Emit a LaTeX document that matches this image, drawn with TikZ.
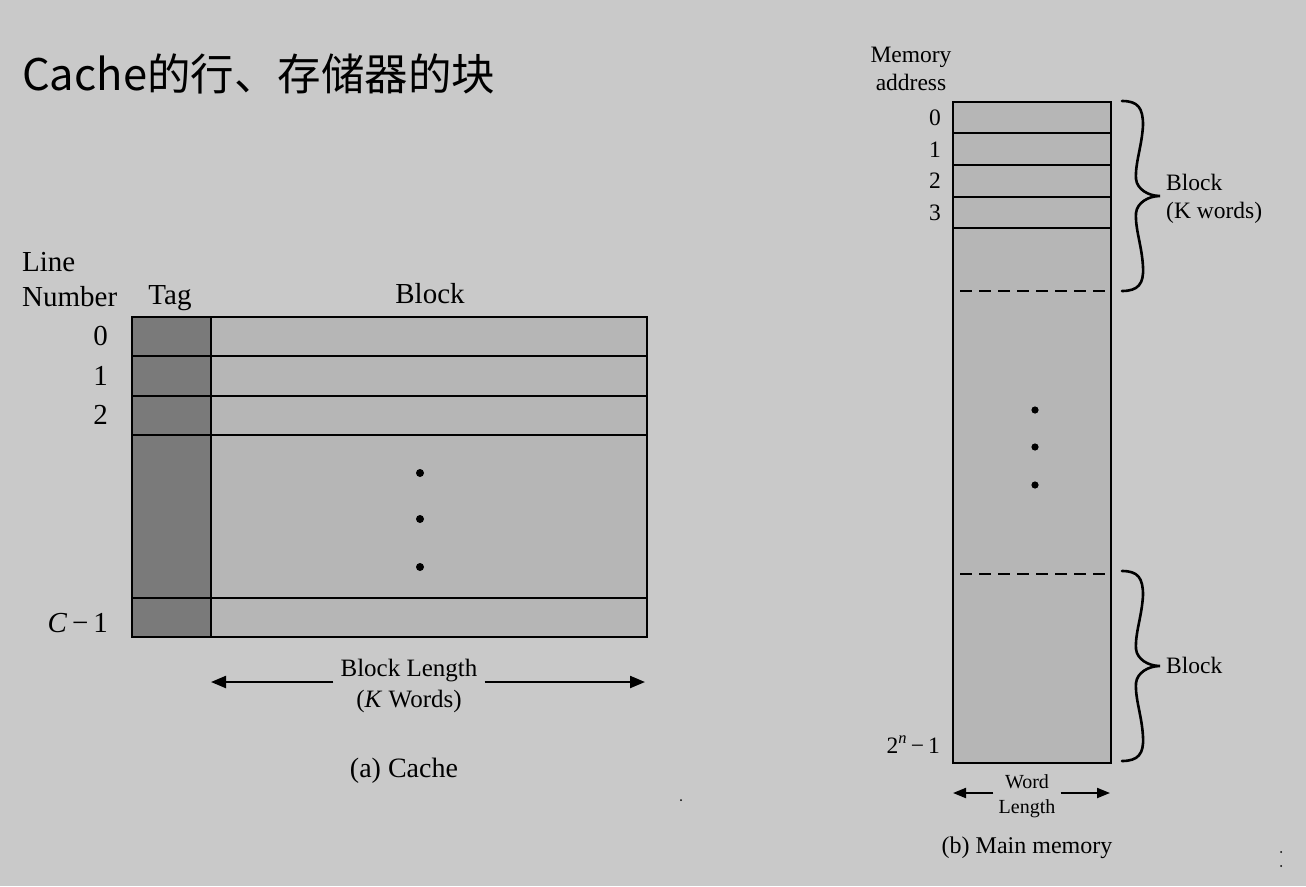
\documentclass[tikz,border=0pt]{standalone}
\usepackage{fontspec}
\setmainfont{Liberation Serif}
\newfontfamily\cjk{Noto Sans CJK SC}
\usetikzlibrary{arrows.meta}
\definecolor{bg}{RGB}{201,201,201}
\definecolor{blk}{RGB}{182,182,182}
\definecolor{tagc}{RGB}{122,122,122}
\begin{document}
\begin{tikzpicture}[x=1pt,y=-1pt,
  cell/.style={draw=black,line width=1.8pt},
  dline/.style={draw=black,line width=1.5pt,dash pattern=on 12pt off 7pt},
  txt/.style={inner sep=0pt,anchor=base},
  arr/.style={line width=2.2pt,-{Triangle[length=15pt,width=12pt]}},
  cfont/.style={font=\fontsize{29}{34}\selectfont},
  mfont/.style={font=\fontsize{23.5}{28}\selectfont},
  curlybrace/.pic={\draw[line width=2.6pt,line cap=round]
    (0,0) .. controls (16,0) and (21,7) .. (21,24)
    .. controls (20,45) and (13,62) .. (14,78)
    .. controls (15,88) and (26,95) .. (38,95)
    .. controls (26,95) and (15,102) .. (14,112)
    .. controls (13,128) and (20,145) .. (21,166)
    .. controls (22,183) and (16,190) .. (0,190);}]
\fill[bg] (0,0) rectangle (1306,886);
\useasboundingbox (0,0) rectangle (1306,886);

% title
\node[txt,anchor=base west,font=\cjk\fontsize{43.5}{52}\selectfont] (title) at (22,90) {Cache的行、存储器的块};

% ---------- cache ----------
\filldraw[fill=tagc,cell] (132,317) rectangle (211,637);
\filldraw[fill=blk,cell] (211,317) rectangle (647,637);
\foreach \y in {356,396,435,598} \draw[cell] (132,\y) -- (647,\y);

\node[txt,cfont,anchor=base west] (line) at (22,271) {Line};
\node[txt,cfont,anchor=base west] (number) at (22,306) {Number};
\node[txt,cfont] (tag) at (170,304) {Tag};
\node[txt,cfont] (blockh) at (430,303) {Block};
\node[txt,cfont,anchor=base east] (r0) at (108,345) {0};
\node[txt,cfont,anchor=base east] (r1) at (108,385) {1};
\node[txt,cfont,anchor=base east] (r2) at (108,424) {2};
\node[txt,cfont,anchor=base east] (rc) at (108,632) {\textit{C}\,−\,1};

\foreach \y in {473,519,567} \fill (420,\y) circle (4);

\node[txt,font=\fontsize{25}{30}\selectfont,inner xsep=7pt] (bl) at (409,676) {Block Length};
\node[txt,font=\fontsize{25}{30}\selectfont] (kw) at (409,707) {(\textit{K} Words)};
\coordinate (blL) at (211,682);
\coordinate (blR) at (645,682);
\draw[arr] (bl.west |- blL) -- (blL);
\draw[arr] (bl.east |- blR) -- (blR);
\node[txt,font=\fontsize{28}{33}\selectfont] (capa) at (404,777) {(a) Cache};

% ---------- main memory ----------
\filldraw[fill=blk,cell] (953,102) rectangle (1111,763);
\foreach \y in {133,165,197,228} \draw[cell] (953,\y) -- (1111,\y);
\draw[dline] (960,291) -- (1111,291);
\draw[dline] (960,574) -- (1111,574);

\node[txt,mfont] (mem) at (911,62) {Memory};
\node[txt,mfont] (addr) at (911,90) {address};
\node[txt,mfont,anchor=base east] (a0) at (941,125) {0};
\node[txt,mfont,anchor=base east] (a1) at (941,157) {1};
\node[txt,mfont,anchor=base east] (a2) at (941,188) {2};
\node[txt,mfont,anchor=base east] (a3) at (941,220) {3};
\node[txt,mfont,anchor=base east] (an) at (940,753) {2\textsuperscript{\textit{n}}\,−\,1};

\foreach \y in {410,447,485} \fill (1035,\y) circle (3.6);

\pic at (1122,101) {curlybrace};
\pic at (1122,571) {curlybrace};
\node[txt,mfont,anchor=base west] (b1) at (1166,190) {Block};
\node[txt,mfont,anchor=base west] (b1k) at (1166,218) {(K words)};
\node[txt,mfont,anchor=base west] (b2) at (1166,673) {Block};

\node[txt,font=\fontsize{20}{24}\selectfont] (wd) at (1027,788) {Word};
\node[txt,font=\fontsize{20}{24}\selectfont,inner xsep=5pt] (len) at (1027,813) {Length};
\coordinate (wL) at (953,793);
\coordinate (wR) at (1110,793);
\draw[arr,line width=2pt,-{Triangle[length=13pt,width=10pt]}] (len.west |- wL) -- (wL);
\draw[arr,line width=2pt,-{Triangle[length=13pt,width=10pt]}] (len.east |- wR) -- (wR);
\node[txt,font=\fontsize{24}{29}\selectfont] (capb) at (1027,853) {(b) Main memory};

% stray marks
\fill (681,800) circle (1);
\fill (1281,852) circle (1);
\fill (1281,866) circle (1);
\end{tikzpicture}
\end{document}
